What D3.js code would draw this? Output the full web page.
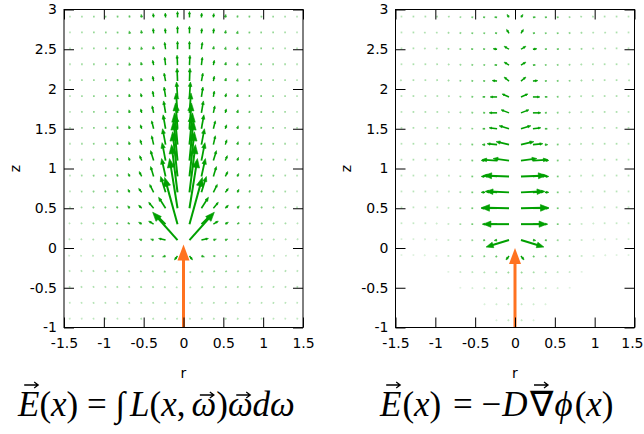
<!DOCTYPE html>
<html><head><meta charset="utf-8">
<script src="https://cdn.jsdelivr.net/npm/d3@7"></script>
<style>body{margin:0;background:#fff}svg{display:block}</style>
</head><body>
<svg id="c" width="644" height="434"></svg>
<script>
// ---------------- data ----------------
const rCols = [-1.425,-1.275,-1.125,-0.975,-0.825,-0.675,-0.525,-0.375,-0.225,-0.075,
                0.075,0.225,0.375,0.525,0.675,0.825,0.975,1.125,1.275,1.425];
const zRows = [-0.9,-0.7,-0.5,-0.3,-0.1,0.1,0.3,0.5,0.7,0.9,1.1,1.3,1.5,1.7,1.9,2.1,2.3,2.5,2.7,2.9];
const rTicks = [-1.5,-1,-0.5,0,0.5,1,1.5];
const rTickLabels = ["-1.5","-1","-0.5","0","0.5","1","1.5"];
const zTicks = [-1,-0.5,0,0.5,1,1.5,2,2.5,3];
const zTickLabels = ["-1","-0.5","0","0.5","1","1.5","2","2.5","3"];
const xTitle = "r", yTitle = "z";
// incoming beam (orange): r and z of tail and tip, per panel
const beamR = [0, 0];
const beamZ0 = [-1, -1];
const beamZ1 = [0.045, 0.0];

// vector field components, in thousandths of an axis unit; rows follow zRows, columns follow rCols
const fluxDr = [
 [-1,-1,-2,-2,-2,-3,-3,-3,-3,-3, 3,3,3,3,3,2,2,2,1,1],
 [-1,-2,-2,-3,-3,-4,-4,-4,-4,-4, 4,4,4,4,4,3,3,2,2,1],
 [-2,-3,-3,-4,-5,-6,-7,-7,-8,-6, 6,8,7,7,6,5,4,3,3,2],
 [-2,-3,-4,-5,-7,-9,-12,-14,-15,-10, 10,15,14,12,9,7,5,4,3,2],
 [-3,-4,-5,-6,-9,-12,-19,-25,-38,-38, 38,38,25,19,12,9,6,5,4,3],
 [-3,-4,-6,-9,-12,-20,-31,-38,-88,-312, 312,88,38,31,20,12,9,6,4,3],
 [-3,-4,-6,-10,-16,-25,-38,-62,-112,-162, 162,112,62,38,25,16,10,6,4,3],
 [0,-4,-6,-9,-15,-25,-38,-62,-88,-100, 100,88,62,38,25,15,9,6,4,0],
 [0,-2,-5,-8,-12,-22,-38,-50,-62,-75, 75,62,50,38,22,12,8,5,2,0],
 [0,-2,-4,-6,-10,-19,-31,-38,-50,-62, 62,50,38,31,19,10,6,4,2,0],
 [0,-2,-4,-5,-9,-15,-25,-38,-44,-50, 50,44,38,25,15,9,5,4,2,0],
 [0,0,-2,-4,-8,-12,-19,-25,-38,-38, 38,38,25,19,12,8,4,2,0,0],
 [0,0,0,-2,-6,-12,-15,-25,-31,-25, 25,31,25,15,12,6,2,0,0,0],
 [0,0,0,-2,-6,-10,-12,-19,-25,-19, 19,25,19,12,10,6,2,0,0,0],
 [0,0,0,0,-5,-8,-12,-12,-19,-12, 12,19,12,12,8,5,0,0,0,0],
 [0,0,0,0,-4,-6,-10,-12,-19,-6, 6,19,12,10,6,4,0,0,0,0],
 [0,0,0,0,-4,-6,-9,-12,-12,-6, 6,12,12,9,6,4,0,0,0,0],
 [0,0,0,0,-4,-6,-6,-6,-12,0, 0,12,6,6,6,4,0,0,0,0],
 [0,0,0,0,-4,-6,-6,-6,-6,0, 0,6,6,6,6,4,0,0,0,0],
 [0,0,0,-4,-4,-6,-6,-6,-4,0, 0,4,6,6,6,4,4,0,0,0]
];
const fluxDz = [
 [4,4,5,5,5,6,6,6,6,5, 5,6,6,6,6,5,5,5,4,4],
 [5,5,6,6,7,7,7,7,6,5, 5,6,7,7,7,7,6,6,5,5],
 [6,6,7,7,8,8,8,8,6,3, 3,6,8,8,8,8,7,7,6,6],
 [5,6,7,8,8,8,8,7,4,-3, -3,4,7,8,8,8,8,7,6,5],
 [1,1,1,1,0,0,-4,-6,-12,-50, -50,-12,-6,-4,0,0,1,1,1,1],
 [4,5,6,8,9,10,12,12,19,350, 350,19,12,12,10,9,8,6,5,4],
 [5,8,10,12,16,19,25,38,112,588, 588,112,38,25,19,16,12,10,8,5],
 [6,9,12,16,22,31,38,75,138,625, 625,138,75,38,31,22,16,12,9,6],
 [6,10,14,19,25,38,50,100,200,600, 600,200,100,50,38,25,19,14,10,6],
 [6,10,15,20,28,38,62,125,225,562, 562,225,125,62,38,28,20,15,10,6],
 [6,10,15,20,28,40,62,125,225,500, 500,225,125,62,40,28,20,15,10,6],
 [6,10,15,20,28,38,62,112,200,400, 400,200,112,62,38,28,20,15,10,6],
 [6,10,15,20,28,38,50,100,175,325, 325,175,100,50,38,28,20,15,10,6],
 [6,10,14,20,25,38,50,88,150,250, 250,150,88,50,38,25,20,14,10,6],
 [6,10,14,19,25,38,44,75,125,188, 188,125,75,44,38,25,19,14,10,6],
 [6,10,12,18,25,31,38,62,100,162, 162,100,62,38,31,25,18,12,10,6],
 [6,9,12,16,22,31,38,62,100,125, 125,100,62,38,31,22,16,12,9,6],
 [6,9,12,16,20,31,31,38,88,100, 100,88,38,31,31,20,16,12,9,6],
 [6,9,12,15,19,31,38,62,62,88, 88,62,62,38,31,19,15,12,9,6],
 [6,9,12,15,19,25,38,50,56,75, 75,56,50,38,25,19,15,12,9,6]
];
const diffDr = [
 [0,0,0,0,0,0,0,0,-1,-3, 3,1,0,0,0,0,0,0,0,0],
 [0,0,0,0,0,0,0,-1,-2,-3, 3,2,1,0,0,0,0,0,0,0],
 [0,0,0,0,0,-1,-2,-4,-5,-6, 6,5,4,2,1,0,0,0,0,0],
 [0,0,0,0,-1,-4,-5,-6,-8,-9, 9,8,6,5,4,1,0,0,0,0],
 [0,0,-1,-2,-4,-9,-12,-16,-19,-38, 38,19,16,12,9,4,2,1,0,0],
 [0,0,-1,-2,-4,-6,-12,-25,-38,-288, 288,38,25,12,6,4,2,1,0,0],
 [0,0,0,-2,-4,-10,-19,-38,-125,-325, 325,125,38,19,10,4,2,0,0,0],
 [0,0,0,0,-4,-10,-20,-50,-150,-350, 350,150,50,20,10,4,0,0,0,0],
 [0,0,0,0,-2,-8,-19,-50,-150,-288, 288,150,50,19,8,2,0,0,0,0],
 [0,0,0,0,-2,-8,-19,-50,-175,-312, 312,175,50,19,8,2,0,0,0,0],
 [0,0,0,0,-2,-8,-19,-50,-188,-200, 200,188,50,19,8,2,0,0,0,0],
 [0,0,0,0,-2,-8,-19,-38,-125,-162, 162,125,38,19,8,2,0,0,0,0],
 [0,0,0,0,-2,-8,-15,-31,-100,-125, 125,100,31,15,8,2,0,0,0,0],
 [0,0,0,0,-4,-10,-15,-25,-100,-100, 100,100,25,15,10,4,0,0,0,0],
 [0,0,0,0,-4,-12,-19,-31,-88,-88, 88,88,31,19,12,4,0,0,0,0],
 [-4,0,0,-2,-8,-15,-19,-25,-62,-62, 62,62,25,19,15,8,2,0,0,4],
 [0,0,0,-2,-5,-10,-15,-19,-31,-62, 62,31,19,15,10,5,2,0,0,0],
 [0,0,-4,-4,-12,-19,-25,-25,-50,-62, 62,50,25,25,19,12,4,4,0,0],
 [0,0,-4,-4,-8,-12,-19,-19,-25,-31, 31,25,19,19,12,8,4,4,0,0],
 [0,0,0,-2,-4,-10,-19,-25,-31,-25, 25,31,25,19,10,4,2,0,0,0]
];
const diffDz = [
 [0,0,0,0,0,0,0,0,-1,-3, -3,-1,0,0,0,0,0,0,0,0],
 [0,0,0,0,0,0,0,-1,-2,-3, -3,-2,-1,0,0,0,0,0,0,0],
 [0,0,0,0,0,0,-1,-2,-4,-5, -5,-4,-2,-1,0,0,0,0,0,0],
 [0,0,0,0,0,-1,-2,-4,-5,-8, -8,-5,-4,-2,-1,0,0,0,0,0],
 [1,1,1,0,0,-2,-4,-6,-12,-50, -50,-12,-6,-4,-2,0,0,1,1,1],
 [2,2,2,1,0,0,-2,-4,-6,-88, -88,-6,-4,-2,0,0,1,2,2,2],
 [4,4,4,2,1,0,0,0,0,0, 0,0,0,0,0,1,2,4,4,4],
 [5,5,5,4,2,1,0,0,0,6, 6,0,0,0,1,2,4,5,5,5],
 [5,6,6,5,4,2,0,0,12,12, 12,12,0,0,2,4,5,6,6,5],
 [5,6,6,6,5,2,0,0,12,12, 12,12,0,0,2,5,6,6,6,5],
 [6,8,8,6,5,4,2,2,12,25, 25,12,2,2,4,5,6,8,8,6],
 [6,8,8,8,6,4,2,0,12,38, 38,12,0,2,4,6,8,8,8,6],
 [6,8,8,8,6,5,2,0,12,38, 38,12,0,2,5,6,8,8,8,6],
 [6,8,8,8,6,5,4,2,0,38, 38,0,2,4,5,6,8,8,8,6],
 [6,8,8,8,8,5,4,2,0,38, 38,0,2,4,5,8,8,8,8,6],
 [5,8,8,8,6,5,4,4,6,50, 50,6,4,4,5,6,8,8,8,5],
 [6,8,8,8,6,5,4,4,4,38, 38,4,4,4,5,6,8,8,8,6],
 [6,8,6,6,5,4,4,4,6,38, 38,6,4,4,4,5,6,6,8,6],
 [6,8,6,6,6,5,4,4,6,50, 50,6,4,4,5,6,6,6,8,6],
 [6,8,8,8,8,5,4,4,4,38, 38,4,4,4,5,8,8,8,8,6]
];

// formulas (text pieces: s = text, i = italic, v = vector-arrow drop in px, dx = extra gap)
const formulaLeft = [
 {s:"E",i:1,v:0},{s:"("},{s:"x",i:1},{s:") = "},{s:"∫",i:1},{s:"L",i:1,dx:5},{s:"("},{s:"x",i:1},{s:","},
 {s:"ω",i:1,v:10,dx:6},{s:")"},{s:"ω",i:1,v:10},{s:"d",i:1},{s:"ω",i:1}
];
const formulaRight = [
 {s:"E",i:1,v:0},{s:"(",dx:1},{s:"x",i:1},{s:")"},{s:" = −",dx:3},{s:"D",i:1,dx:1},{s:"∇",v:0,dx:2},
 {s:"ϕ",i:1,dx:2},{s:"(",dx:2},{s:"x",i:1},{s:")"}
];

// ---------------- drawing ----------------
const svg = d3.select("#c");
const y = d3.scaleLinear().domain([-1,3]).range([327.5, 9.5]);
const green = d3.scalePow().exponent(0.7).domain([0,0.05]).range(["#eef8ee","#00a000"]).clamp(true);

const panels = [
  {range:[64,303], DR:fluxDr, DZ:fluxDz, f:formulaLeft, fx:18, ytx:15},
  {range:[395.5,634.5], DR:diffDr, DZ:diffDz, f:formulaRight, fx:380, ytx:346}
];
const FB = 416; // formula baseline

panels.forEach((p,pi)=>{
  const x = d3.scaleLinear().domain([-1.5,1.5]).range(p.range);
  const g = svg.append("g");

  // vectors
  const cells = [];
  zRows.forEach((z,j)=>rCols.forEach((r,i)=>{
    const dr = p.DR[j][i]/1000, dz = p.DZ[j][i]/1000;
    cells.push({r,z,dr,dz,m:Math.hypot(dr,dz)});
  }));
  cells.sort((a,b)=>a.m-b.m);
  const vg = g.append("g");
  cells.forEach(c=>{
    if (c.m < 0.0008) return;
    const x0 = x(c.r), y0 = y(c.z), x1 = x(c.r+c.dr), y1 = y(c.z+c.dz);
    const len = Math.hypot(x1-x0, y1-y0);
    const ux = (x1-x0)/len, uy = (y1-y0)/len;
    const col = green(c.m);
    if (len < 2.5) {
      const L = Math.max(len, 1.8);
      vg.append("line").attr("x1",x0).attr("y1",y0).attr("x2",x0+ux*L).attr("y2",y0+uy*L)
        .attr("stroke",col).attr("stroke-width",1.7);
      return;
    }
    const h = Math.min(9, Math.max(2.5, len*0.3)), w = h*0.4;
    const bx = x1-ux*h, by = y1-uy*h;
    const sw = 1.3 + Math.min(1, len/25)*0.7;
    vg.append("line").attr("x1",x0).attr("y1",y0).attr("x2",x1-ux*h*0.6).attr("y2",y1-uy*h*0.6)
      .attr("stroke",col).attr("stroke-width",sw);
    vg.append("path").attr("d",`M${x1},${y1}L${bx-uy*w},${by+ux*w}L${bx+uy*w},${by-ux*w}Z`)
      .attr("fill",col).attr("stroke",col).attr("stroke-width",0.6);
  });

  // beam arrow
  const bx0 = x(beamR[pi]), by0 = y(beamZ0[pi]), by1 = y(beamZ1[pi]);
  g.append("line").attr("x1",bx0).attr("y1",by0).attr("x2",bx0).attr("y2",by1+10)
    .attr("stroke","#ff7220").attr("stroke-width",3);
  g.append("path").attr("d",`M${bx0},${by1}L${bx0-6},${by1+16}L${bx0+6},${by1+16}Z`).attr("fill","#ff7220");

  // axes
  const font = "'DejaVu Sans', sans-serif";
  const ax = (axis, tr) => {
    const a = g.append("g").attr("transform",tr).call(axis);
    a.select(".domain").remove();
    a.selectAll("line").attr("stroke","#000");
    a.selectAll("text").attr("font-family",font).attr("font-size",14).attr("fill","#000");
    return a;
  };
  const bottom = ax(d3.axisBottom(x).tickValues(rTicks).tickFormat((d,i)=>rTickLabels[i]).tickSizeInner(-10).tickSizeOuter(0).tickPadding(11),
     `translate(0,${y(-1)})`);
  bottom.selectAll("text").each(function(){
    const b = this.getBBox(), t = this.parentNode.transform.baseVal.consolidate();
    const right = b.x + b.width + (t ? t.matrix.e : 0);
    if (right > 643.5) d3.select(this).attr("dx", 643.5 - right);
  });
  ax(d3.axisTop(x).tickValues(rTicks).tickFormat("").tickSizeInner(-10).tickSizeOuter(0), `translate(0,${y(3)})`);
  ax(d3.axisLeft(y).tickValues(zTicks).tickFormat((d,i)=>zTickLabels[i]).tickSizeInner(-10).tickSizeOuter(0).tickPadding(7),
     `translate(${x(-1.5)},0)`);
  ax(d3.axisRight(y).tickValues(zTicks).tickFormat("").tickSizeInner(-10).tickSizeOuter(0), `translate(${x(1.5)},0)`);
  g.append("rect").attr("x",x(-1.5)).attr("y",y(3)).attr("width",x(1.5)-x(-1.5)).attr("height",y(-1)-y(3))
    .attr("fill","none").attr("stroke","#000").attr("stroke-width",1);

  g.append("text").attr("x",(x(-1.5)+x(1.5))/2).attr("y",378).attr("text-anchor","middle")
    .attr("font-family",font).attr("font-size",14).text(xTitle);
  g.append("text").attr("transform",`translate(${p.ytx + 5},${y(1)}) rotate(-90)`).attr("text-anchor","middle")
    .attr("font-family",font).attr("font-size",14).text(yTitle);

  // formula
  const t = g.append("text").attr("x",p.fx).attr("y",FB)
    .attr("font-family","'Liberation Serif','Times New Roman',serif").attr("font-size",35).attr("fill","#000");
  const spans = [];
  p.f.forEach(q=>{
    const ts = t.append("tspan").text(q.s);
    if (q.i) ts.attr("font-style","italic");
    if (q.dx) ts.attr("dx", q.dx);
    spans.push([ts,q]);
  });
  spans.forEach(([ts,q])=>{
    if (q.v === undefined) return;
    const b = ts.node().getBBox();
    const cx = b.x + b.width/2 + (q.i ? 3 : 0), ay = FB - 31 + q.v, hw = 7;
    g.append("path")
      .attr("d",`M${cx-hw},${ay}H${cx+hw}M${cx+hw-4},${ay-3}L${cx+hw},${ay}L${cx+hw-4},${ay+3}`)
      .attr("fill","none").attr("stroke","#000").attr("stroke-width",1.3);
  });
});
</script>
</body></html>
